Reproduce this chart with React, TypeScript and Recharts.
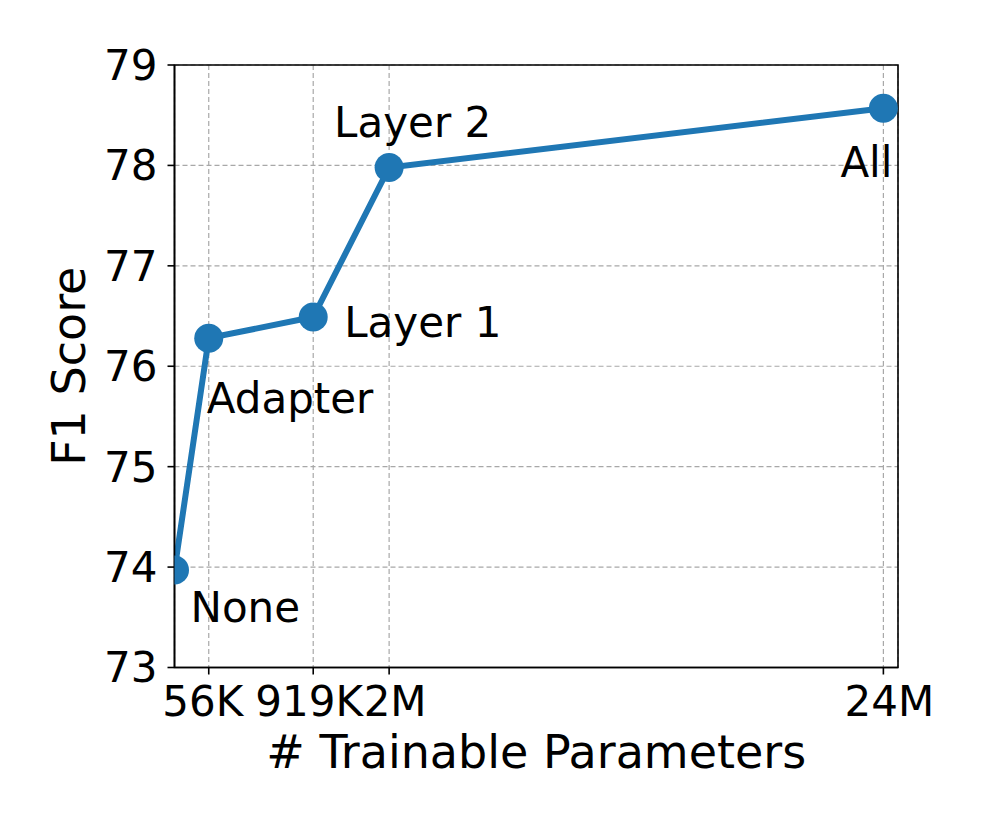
import {
  CartesianGrid,
  LabelList,
  Line,
  LineChart,
  ReferenceArea,
  XAxis,
  YAxis,
} from 'recharts';

const methods = ['None', 'Adapter', 'Layer 1', 'Layer 2', 'All'];
const trainableParams = [0, 56000, 919000, 2200000, 24000000];
const f1Scores = [73.97, 76.28, 76.49, 77.98, 78.57];

const xTickValues = [56000, 919000, 2200000, 24000000];
const xTickLabels = ['56K', '919K', '2M', '24M'];
const yTicks = [73, 74, 75, 76, 77, 78, 79];

// nudges so the tick texts sit as in the original figure (px)
const xTickShift = [-6, -4, 6, 6];

// where each annotation sits relative to its point (px)
const labelOffsets = [
  { dx: 16, dy: 52 },
  { dx: -2, dy: 75 },
  { dx: 31, dy: 20 },
  { dx: -55, dy: -30 },
  { dx: -43, dy: 69 },
];

const FONT = '"DejaVu Sans", sans-serif';
const BLUE = '#1f77b4';
const TICK_FONT = 42;
const LABEL_FONT = 46;

const data = methods.map((m, i) => ({ method: m, params: trainableParams[i], f1: f1Scores[i] }));

function PointLabel(props: any) {
  const { x, y, index } = props;
  const off = labelOffsets[index];
  return (
    <text x={x + off.dx} y={y + off.dy} fontSize={TICK_FONT} fontFamily={FONT} fill="#000">
      {methods[index]}
    </text>
  );
}

function XTick(props: any) {
  const { x, y, payload } = props;
  const i = xTickValues.indexOf(payload.value);
  return (
    <text x={x + xTickShift[i]} y={y} dy="0.71em" textAnchor="middle" fontSize={TICK_FONT} fontFamily={FONT} fill="#000">
      {xTickLabels[i]}
    </text>
  );
}

export default function App() {
  return (
    <div style={{ position: 'absolute', left: 0, top: 0, width: 997, height: 830, background: '#fff', fontFamily: FONT }}>
      <LineChart width={997} height={830} data={data} margin={{ top: 65, right: 99, left: 0, bottom: 52.5 }}>
        <CartesianGrid stroke="#a8a8a8" strokeDasharray="5 3" strokeWidth={1.2} />
        <XAxis
          dataKey="params"
          type="number"
          scale="sqrt"
          domain={[0, 25000000]}
          allowDataOverflow
          ticks={xTickValues}
          interval={0}
          height={110}
          tickSize={7}
          tickMargin={12}
          tick={<XTick />}
          tickLine={{ stroke: '#000', strokeWidth: 1.6 }}
          axisLine={{ stroke: '#000', strokeWidth: 1.6 }}
          label={{ value: '# Trainable Parameters', position: 'insideBottom', offset: 9.5, fill: '#000', fontSize: LABEL_FONT, fontFamily: FONT }}
        />
        <YAxis
          type="number"
          domain={[73, 79]}
          ticks={yTicks}
          width={174.5}
          tickSize={7}
          tickMargin={10}
          tick={{ fill: '#000', fontSize: TICK_FONT, fontFamily: FONT }}
          tickLine={{ stroke: '#000', strokeWidth: 1.6 }}
          axisLine={{ stroke: '#000', strokeWidth: 1.6 }}
          label={{
            value: 'F1 Score',
            angle: -90,
            position: 'insideLeft',
            offset: 69,
            fill: '#000',
            fontSize: LABEL_FONT,
            fontFamily: FONT,
            style: { textAnchor: 'middle' },
          }}
        />
        <ReferenceArea x1={0} x2={25000000} y1={73} y2={79} fill="none" stroke="#000" strokeWidth={1.6} ifOverflow="visible" />
        <Line
          type="linear"
          dataKey="f1"
          stroke={BLUE}
          strokeWidth={6}
          dot={{ r: 14.5, fill: BLUE, stroke: 'none' }}
          isAnimationActive={false}
        >
          <LabelList dataKey="f1" content={PointLabel} />
        </Line>
      </LineChart>
    </div>
  );
}
